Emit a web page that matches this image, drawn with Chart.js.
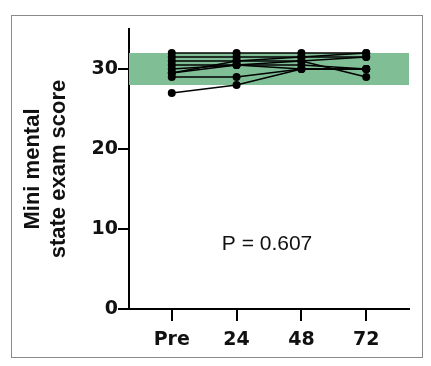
<!DOCTYPE html>
<html>
<head>
<meta charset="utf-8">
<script src="https://cdn.jsdelivr.net/npm/chart.js@4"></script>
<style>
    html, body { margin: 0; padding: 0; background: #fff; }
    #wrap { position: relative; width: 431px; height: 366px; }
    #frame { position: absolute; left: 11px; top: 15px; width: 410px; height: 341px; border: 1px solid #8a8a8a; }
    canvas { position: absolute; left: 0; top: 0; }
</style>
</head>
<body>
<div id="wrap">
    <div id="frame"></div>
    <canvas id="mmseChart" width="431" height="366"></canvas>
</div>
<script>
// Time points (hours after treatment)
const timepoints = ['Pre', '24', '48', '72'];

// MMSE score of each patient at each time point
const patientScores = [
    [32, 32, 32, 32],
    [31.5, 31.5, 31.5, 31.5],
    [31, 31, 31.5, 32],
    [30.5, 30.5, 31, 29],
    [30, 30.5, 30.5, 30],
    [29.5, 31, 31, 31.5],
    [29.5, 30.5, 30, 30],
    [29, 29, 30, 30],
    [27, 28, 30, 30]
];

// Normal range shaded in green
const normalRange = [28, 32];
const yTicks = [0, 10, 20, 30];
const pValueText = 'P = 0.607';

// Green band drawn behind the lines, plus the P value label
const bandPlugin = {
    id: 'band',
    beforeDatasetsDraw(chart) {
        const { ctx, chartArea, scales } = chart;
        const yTop = scales.y.getPixelForValue(normalRange[1]);
        const yBot = scales.y.getPixelForValue(normalRange[0]);
        ctx.save();
        ctx.fillStyle = 'rgb(128, 191, 150)';
        ctx.fillRect(chartArea.left, yTop, chartArea.right - chartArea.left, yBot - yTop);
        ctx.restore();
    },
    afterDatasetsDraw(chart) {
        const { ctx, scales } = chart;
        ctx.save();
        ctx.fillStyle = '#111';
        ctx.font = '21px "Liberation Sans", Arial, sans-serif';
        ctx.textAlign = 'center';
        ctx.textBaseline = 'middle';
        ctx.fillText(pValueText, scales.x.getPixelForValue(1.47), scales.y.getPixelForValue(8.1));
        ctx.restore();
    }
};

const datasets = patientScores.map(scores => ({
    data: scores.map((v, i) => ({ x: i, y: v })),
    borderColor: '#000',
    backgroundColor: '#000',
    borderWidth: 1.5,
    pointRadius: 4,
    pointBorderWidth: 0,
    tension: 0
}));

new Chart(document.getElementById('mmseChart'), {
    type: 'line',
    data: { datasets },
    options: {
        responsive: false,
        animation: false,
        layout: { padding: { left: 0, top: 29, right: 22, bottom: 0 } },
        plugins: { legend: { display: false }, tooltip: { enabled: false } },
        scales: {
            x: {
                type: 'linear',
                min: -0.66,
                max: 3.66,
                afterBuildTicks: (scale) => { scale.ticks = timepoints.map((t, i) => ({ value: i })); },
                afterFit: (scale) => { scale.height = 57; },
                border: { display: true, color: '#000', width: 2 },
                grid: { drawOnChartArea: false, drawTicks: true, tickLength: 12, color: '#000', lineWidth: 2 },
                ticks: {
                    color: '#111',
                    font: { family: 'DejaVu Sans', size: 19, weight: 'bold' },
                    padding: 8,
                    callback: (v) => timepoints[v]
                }
            },
            y: {
                min: 0,
                max: 35,
                afterBuildTicks: (scale) => { scale.ticks = yTicks.map(v => ({ value: v })); },
                afterFit: (scale) => { scale.width = 129; },
                border: { display: true, color: '#000', width: 2 },
                grid: { drawOnChartArea: false, drawTicks: true, tickLength: 11, color: '#000', lineWidth: 2 },
                ticks: { color: '#111', font: { family: 'DejaVu Sans', size: 19, weight: 'bold' }, padding: 0 },
                title: {
                    display: true,
                    text: ['Mini mental', 'state exam score'],
                    color: '#111',
                    font: { family: 'Liberation Sans', size: 22, weight: 'bold', lineHeight: 1.18 },
                    padding: { top: 20, bottom: 0 }
                }
            }
        }
    },
    plugins: [bandPlugin]
});
</script>
</body>
</html>
